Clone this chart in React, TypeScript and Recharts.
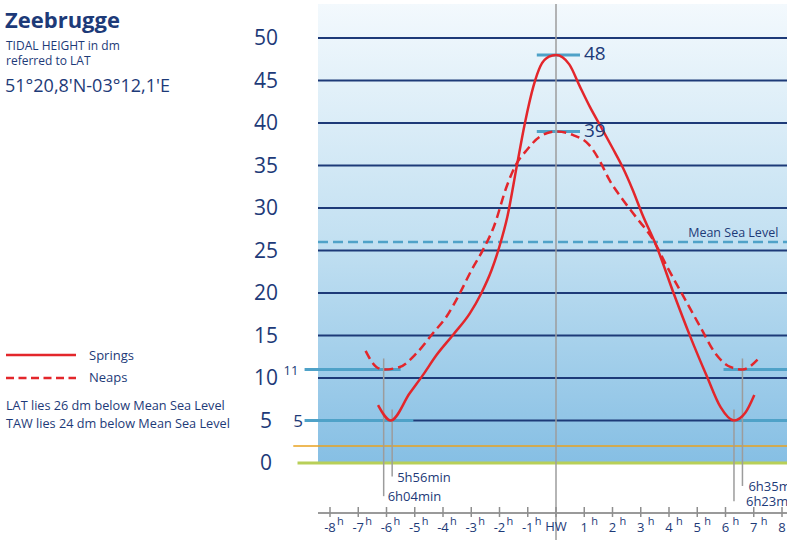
import React from 'react';
import {
  ComposedChart, Line, XAxis, YAxis, ReferenceArea, ReferenceLine, ReferenceDot,
} from 'recharts';

// tide curves (hours from HW, height in dm above LAT)
const springHours = [-6.3, -5.85, -5.18, -4.7, -4.23, -3.64, -3.05, -2.64, -2.28, -2.0, -1.72, -1.39, -1.1, -0.8, -0.55, -0.25, 0, 0.47, 0.83, 1.2, 1.6, 2.01, 2.36, 2.72, 3.05, 3.57, 4.16, 4.75, 5.34, 5.82, 6.3, 6.7, 7.02];
const springHeights = [6.8, 5.0, 8.2, 10.4, 12.7, 15.1, 17.6, 20.0, 22.7, 25.5, 29.0, 34.9, 40.0, 44.3, 46.7, 47.8, 48, 46.9, 44.4, 41.9, 39.5, 37.0, 34.8, 32.1, 29.3, 25.4, 20.0, 14.9, 10.2, 6.6, 5.0, 5.9, 8.0];

const neapHours = [-6.74, -6.36, -6.1, -5.53, -4.94, -4.35, -3.88, -3.4, -2.99, -2.58, -2.2, -1.75, -1.45, -1.04, -0.57, 0, 0.59, 1.18, 1.54, 1.89, 2.36, 2.84, 3.45, 3.93, 4.51, 5.11, 5.64, 6.17, 6.6, 7.17];
const neapHeights = [13.2, 11.3, 11.0, 11.3, 12.9, 15.3, 17.2, 20.0, 22.7, 25.1, 27.8, 32.5, 34.9, 36.8, 38.4, 39, 38.6, 37.4, 35.6, 33.3, 31.0, 28.9, 26.2, 23.1, 19.6, 16.0, 12.9, 11.3, 11.0, 12.3];

const heightTicks = [0, 5, 10, 15, 20, 25, 30, 35, 40, 45, 50];
const gridLevels = [5, 10, 15, 20, 25, 30, 35, 40, 45, 50];
const hourTicks = [-8, -7, -6, -5, -4, -3, -2, -1, 0, 1, 2, 3, 4, 5, 6, 7, 8];

const meanSeaLevel = 26;
const tawLevel = 2;
const highWaters = [48, 39];
const lowLevels = [5, 11];

const lowWaterHours = [-5.8, -6.1, 6.3, 6.6];
const lowWaterLevels = [5, 11, 5, 11];
const lowWaterEnds = [-1.6, -3.9, -4.5, -2.7];
const lowWaterLabels = ['5h56min', '6h04min', '6h23min', '6h35min'];
const lowWaterLabelDx = [5, 4, 12, 6];

const NAVY = '#1d3a78';
const RED = '#e3262b';
const MARK = '#4fa2c8';
const GREY = '#9c9c9c';
const FONT = '"Open Sans", sans-serif';

const springData = springHours.map((h, i) => ({ hour: h, height: springHeights[i] }));
const neapData = neapHours.map((h, i) => ({ hour: h, height: neapHeights[i] }));

const HeightTick = (props: any) => {
  const { x, y, payload } = props;
  return (
    <text x={x - 52} y={y + 7} textAnchor="middle" fill={NAVY} fontSize={21} fontFamily={FONT}>
      {payload.value}
    </text>
  );
};

const HourTick = (props: any) => {
  const { x, y, payload } = props;
  const v = payload.value;
  return (
    <g>
      <line x1={x} x2={x} y1={y - 6} y2={y + 4} stroke="#8e8e8e" strokeWidth={1.5} />
      {v === 0 ? (
        <text x={x} y={y + 18} textAnchor="middle" fill={NAVY} fontSize={13} fontFamily={FONT}>HW</text>
      ) : (
        <g>
          <text x={x} y={y + 19} textAnchor="middle" fill={NAVY} fontSize={13} fontFamily={FONT}>
            {v < 0 ? '-' + Math.abs(v) : v}
          </text>
          <text x={x + 7} y={y + 12} textAnchor="start" fill={NAVY} fontSize={11} fontFamily={FONT}>h</text>
        </g>
      )}
    </g>
  );
};

const textLabel = (value: string, dx: number, dy: number, size: number, anchor: string = 'start') =>
  (p: any) => (
    <text x={p.cx + dx} y={p.cy + dy} textAnchor={anchor} fill={NAVY} fontSize={size} fontFamily={FONT}>
      {value}
    </text>
  );

const SidePanel = () => (
  <svg width={787} height={540} style={{ position: 'absolute', left: 0, top: 0, pointerEvents: 'none' }}>
    <g fill={NAVY} fontFamily={FONT}>
      <text x={5} y={28} fontSize={22} fontWeight="bold">Zeebrugge</text>
      <text x={6} y={50} fontSize={12}>TIDAL HEIGHT in dm</text>
      <text x={6} y={65} fontSize={12}>referred to LAT</text>
      <text x={5} y={92} fontSize={18}>51°20,8'N-03°12,1'E</text>
      <text x={89} y={360} fontSize={13}>Springs</text>
      <text x={89} y={382} fontSize={13}>Neaps</text>
      <text x={6} y={410} fontSize={12.7}>LAT lies 26 dm below Mean Sea Level</text>
      <text x={6} y={428} fontSize={12.7}>TAW lies 24 dm below Mean Sea Level</text>
    </g>
    <line x1={6} x2={76} y1={355} y2={355} stroke={RED} strokeWidth={2.5} />
    <line x1={6} x2={76} y1={378} y2={378} stroke={RED} strokeWidth={2.5} strokeDasharray="8 4.5" />
  </svg>
);

export default function App() {
  return (
    <div style={{ position: 'relative', width: 787, height: 540, overflow: 'hidden' }}>
      <style>{'body{margin:0}'}</style>
      <ComposedChart width={787} height={540} margin={{ top: 4, right: 0, bottom: 0, left: 0 }}>
        <defs>
          <linearGradient id="sea" x1="0" y1="0" x2="0" y2="1">
            <stop offset="0%" stopColor="#f3f9fd" />
            <stop offset="50%" stopColor="#c4e1f2" />
            <stop offset="100%" stopColor="#86bfe4" />
          </linearGradient>
        </defs>
        <XAxis type="number" dataKey="hour" domain={[-8.425, 8.177]} ticks={hourTicks} allowDataOverflow
          height={27} tickSize={0} tickMargin={0} tickLine={false} interval={0}
          axisLine={{ stroke: '#9a9a9a', strokeWidth: 2 }} tick={<HourTick />} />
        <YAxis type="number" domain={[-5.88, 54]} ticks={heightTicks} allowDataOverflow width={318}
          tickSize={0} tickMargin={0} tickLine={false} axisLine={false} interval={0} tick={<HeightTick />} />
        <ReferenceArea x1={-8.425} x2={8.177} y1={0} y2={54} fill="url(#sea)" fillOpacity={1} stroke="none" />
        {gridLevels.map((lv) => (
          <ReferenceLine key={'g' + lv} y={lv} stroke={NAVY} strokeWidth={2} />
        ))}
        <ReferenceLine y={meanSeaLevel} stroke={MARK} strokeWidth={2.5} strokeDasharray="10 5" ifOverflow="visible"
          segment={[{ x: -9.2, y: meanSeaLevel }, { x: 8.2, y: meanSeaLevel }]} />
        <ReferenceLine stroke="#e9a21f" strokeWidth={1.5} ifOverflow="visible"
          segment={[{ x: -9.3, y: tawLevel }, { x: 8.2, y: tawLevel }]} />
        <ReferenceLine stroke="#b8cf58" strokeWidth={3} ifOverflow="visible"
          segment={[{ x: -9.15, y: 0 }, { x: 8.2, y: 0 }]} />
        {/* low water markers */}
        <ReferenceLine stroke={MARK} strokeWidth={3} ifOverflow="visible"
          segment={[{ x: -8.9, y: lowLevels[0] }, { x: -5.05, y: lowLevels[0] }]} />
        <ReferenceLine stroke={MARK} strokeWidth={3} ifOverflow="visible"
          segment={[{ x: 6.28, y: lowLevels[0] }, { x: 8.2, y: lowLevels[0] }]} />
        <ReferenceLine stroke={MARK} strokeWidth={3} ifOverflow="visible"
          segment={[{ x: -8.9, y: lowLevels[1] }, { x: -5.5, y: lowLevels[1] }]} />
        <ReferenceLine stroke={MARK} strokeWidth={3} ifOverflow="visible"
          segment={[{ x: 5.93, y: lowLevels[1] }, { x: 8.2, y: lowLevels[1] }]} />
        {highWaters.map((lv) => (
          <ReferenceLine key={'h' + lv} stroke={MARK} strokeWidth={3}
            segment={[{ x: -0.68, y: lv }, { x: 0.85, y: lv }]} />
        ))}
        {lowWaterHours.map((h, i) => (
          <ReferenceLine key={'lw' + i} stroke={GREY} strokeWidth={1.5} ifOverflow="visible"
            segment={[{ x: h, y: lowWaterLevels[i] + 1.3 }, { x: h, y: lowWaterEnds[i] }]} />
        ))}
        <ReferenceLine stroke={GREY} strokeWidth={1.5} ifOverflow="visible"
          segment={[{ x: 0, y: -9.1 }, { x: 0, y: 54 }]} />
        <Line data={neapData} dataKey="height" type="monotone" stroke={RED} strokeWidth={2.5}
          strokeDasharray="9 5" dot={false} isAnimationActive={false} />
        <Line data={springData} dataKey="height" type="monotone" stroke={RED} strokeWidth={2.5}
          dot={false} isAnimationActive={false} />
        {highWaters.map((lv) => (
          <ReferenceDot key={'hl' + lv} x={0.85} y={lv} r={0} ifOverflow="visible"
            shape={textLabel(String(lv), 4, 5, 19)} />
        ))}
        <ReferenceDot x={-9.38} y={lowLevels[1]} r={0} ifOverflow="visible" shape={textLabel('11', 0, 5, 13, 'middle')} />
        <ReferenceDot x={-9.13} y={lowLevels[0]} r={0} ifOverflow="visible" shape={textLabel('5', 0, 6, 17, 'middle')} />
        <ReferenceDot x={7.87} y={meanSeaLevel} r={0} ifOverflow="visible" shape={textLabel('Mean Sea Level', 0, -5, 12.5, 'end')} />
        {lowWaterHours.map((h, i) => (
          <ReferenceDot key={'lwl' + i} x={h} y={lowWaterEnds[i]} r={0} ifOverflow="visible"
            shape={textLabel(lowWaterLabels[i], lowWaterLabelDx[i], 5, 13)} />
        ))}
      </ComposedChart>
      <SidePanel />
    </div>
  );
}
